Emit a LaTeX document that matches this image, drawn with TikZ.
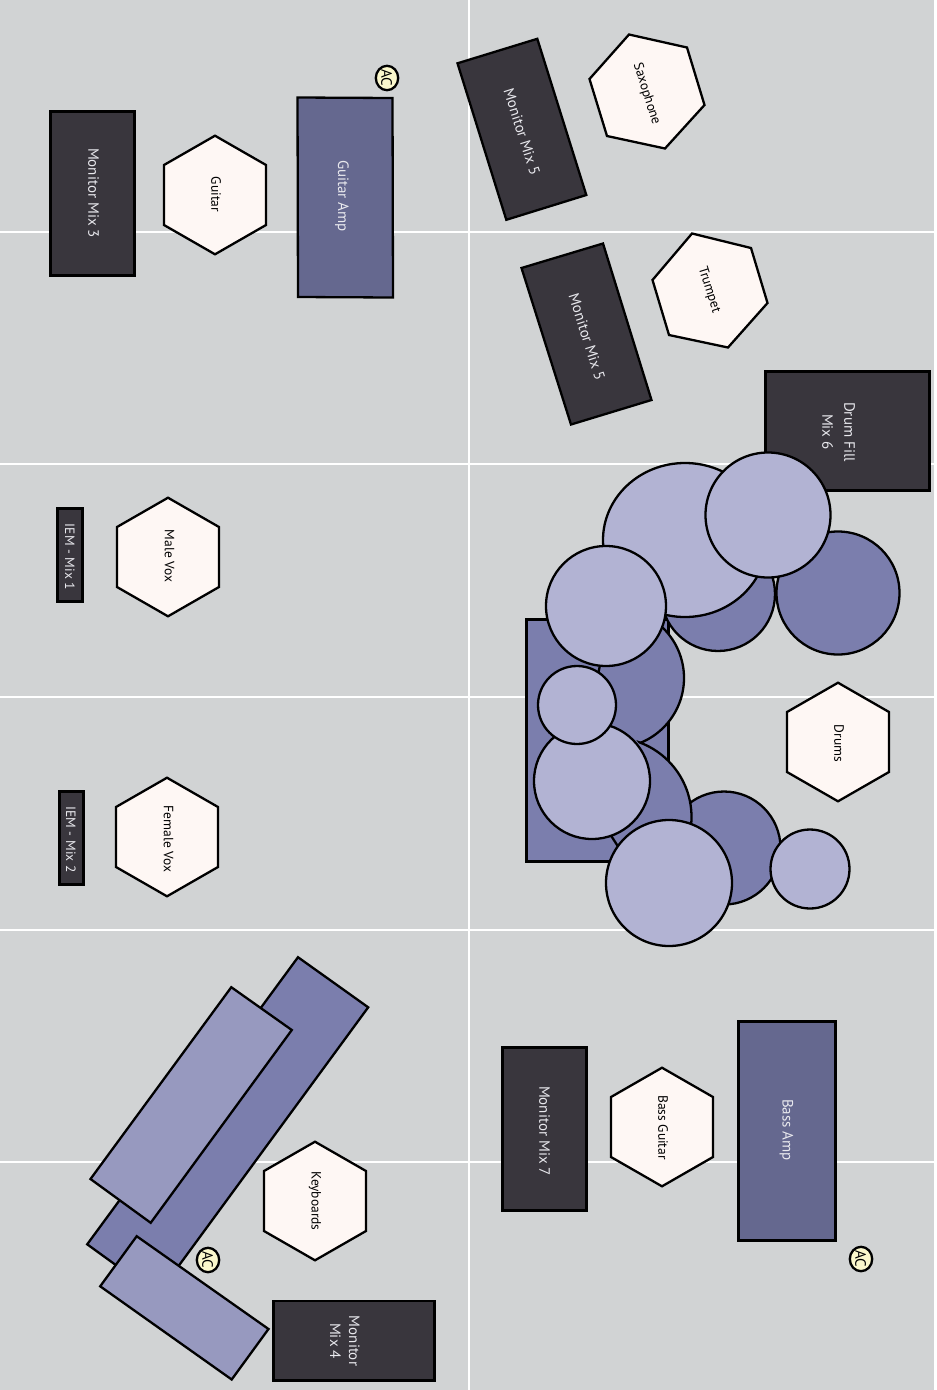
\documentclass[tikz,border=0pt]{standalone}
\usepackage{fontspec}
\setmainfont{PT Sans}
\definecolor{bgc}{HTML}{D1D3D4}
\definecolor{darkc}{HTML}{39363D}
\definecolor{ampc}{HTML}{65688F}
\definecolor{kitc}{HTML}{7B7EAD}
\definecolor{lightc}{HTML}{B2B3D3}
\definecolor{keyc}{HTML}{9799BF}
\definecolor{hexc}{HTML}{FEF7F4}
\definecolor{acc}{HTML}{FBF8CC}
\definecolor{txtw}{HTML}{E9E9EE}
\tikzset{
  shapeline/.style={draw=black,line width=2.3pt,line join=miter},
  monitor/.style={shapeline,fill=darkc},
  amp/.style={shapeline,fill=ampc},
  kit/.style={shapeline,fill=kitc},
  kitfill/.style={fill=kitc},
  cym/.style={shapeline,fill=lightc},
  keybox/.style={shapeline,fill=keyc},
  hexa/.style={shapeline,fill=hexc},
  wlabel/.style={text=txtw,font=\fontsize{15}{16}\selectfont,align=center,inner sep=0pt},
  iemlabel/.style={wlabel,font=\fontsize{13.5}{14}\selectfont},
  blabel/.style={text=black,font=\fontsize{13.5}{15}\selectfont,align=center,inner sep=0pt},
  aclabel/.style={text=black,font=\fontsize{15}{15}\selectfont,rotate=-90,inner sep=0pt},
  acdot/.style={draw=black,line width=2.3pt,fill=acc},
  gridline/.style={draw=white,line width=2.7pt}
}
\newcommand{\uphex}[2]{\path[hexa] (#1,#2-59.3)--(#1+51,#2-30)--(#1+51,#2+30)--(#1,#2+59.3)--(#1-51,#2+30)--(#1-51,#2-30)--cycle;}
\begin{document}
\begin{tikzpicture}[x=1pt,y=-1pt]
\useasboundingbox (0,0) rectangle (937,1390);
\fill[bgc] (0,0) rectangle (934,1390);
% grid
\draw[gridline] (469,0) -- (469,1390);
\foreach \yy in {232,464,697,930,1162} \draw[gridline] (0,\yy) -- (934,\yy);
% Guitar area
\path[monitor] (50.5,111.5) rectangle (134.5,275.5);
\node[wlabel,rotate=-90] (mm3) at (93.5,193) {Monitor Mix 3};
\uphex{215}{195}
\node[blabel,rotate=-90] (guitar) at (216,194.5) {Guitar};
\path[amp] (297.5,97.5) -- (392.5,98) -- (393,297.5) -- (298,297) -- cycle;
\node[wlabel,rotate=-90] (gamp) at (342,196) {Guitar Amp};
\path[acdot] (387,78) ellipse [x radius=11.2,y radius=12.2];
\node[aclabel] (ac1) at (386.5,78) {AC};
% Horns
\path[monitor] (457.5,63.3) -- (537.3,38.8) -- (586.3,195) -- (506.3,219.8) -- cycle;
\node[wlabel,rotate=-72.5] (mm5a) at (522,132) {Monitor Mix 5};
\path[hexa] (629,34.5) -- (687,47.5) -- (704.5,105) -- (665,148.5) -- (607,136) -- (589.5,79) -- cycle;
\node[blabel,rotate=-72.5] (sax) at (646.5,94) {Saxophone};
\path[monitor] (521.5,268) -- (603,243.5) -- (651.5,400) -- (571,424.5) -- cycle;
\node[wlabel,rotate=-72.5] (mm5b) at (587,337) {Monitor Mix 5};
\path[hexa] (692,233.5) -- (751,248) -- (767.5,303) -- (728,347.5) -- (669,335) -- (652.5,280) -- cycle;
\node[blabel,rotate=-72.5] (trumpet) at (709,290) {Trumpet};
% Vocals
\path[monitor] (57.5,508.5) rectangle (82.5,601.5);
\node[iemlabel,rotate=-90] (iem1) at (70,557) {IEM - Mix 1};
\uphex{168}{557}
\node[blabel,rotate=-90] (male) at (169.5,556) {Male Vox};
\path[monitor] (59.5,791.5) rectangle (83.5,884.5);
\node[iemlabel,rotate=-90] (iem2) at (71,839.5) {IEM - Mix 2};
\uphex{167}{837}
\node[blabel,rotate=-90] (female) at (168.5,839) {Female Vox};
% Drums
\path[monitor] (765.5,371.5) rectangle (929.5,490.5);
\node[wlabel,rotate=-90] (fill) at (838.5,432) {Drum Fill\\[6pt]Mix 6};
\path[kit] (526.5,619.5) rectangle (668.5,861.5);
% dark mid: outline only on its right side
\path[kitfill] (614,678) circle [radius=70];
\begin{scope}
  \clip (637,600) rectangle (700,760);
  \path[shapeline] (614,678) circle [radius=70];
\end{scope}
\draw[shapeline] (600,665) -- (598,675);
\path[kit] (724,848) circle [radius=56.5];
% dark lower: only its upper right part is there
\begin{scope}
  \clip (634,735) -- (705,735) -- (705,850) -- (620,850) -- (612,837) -- (605,770) -- cycle;
  \path[kit] (612,817) circle [radius=79.5];
\end{scope}
\path[kitfill] (606,770) -- (634,737) -- (690,815) -- (640,850) -- (617,846) -- (612,837) -- cycle;
\draw[shapeline] (610,834) -- (619,848);
\path[kit] (718,594) circle [radius=57];
\path[kit] (838,593) circle [radius=61.5];
\path[cym] (685,540) ellipse [x radius=82,y radius=77];
\path[cym] (768,515) circle [radius=62.5];
\path[cym] (606,606) circle [radius=60];
\path[cym] (592,781) circle [radius=58];
\path[cym] (577,705) circle [radius=39];
\path[cym] (669,883) circle [radius=63];
\path[cym] (810,869) circle [radius=39.5];
\uphex{838}{742}
\node[blabel,rotate=-90] (drums) at (839,743.5) {Drums};
% Bass
\path[monitor] (502.5,1047.5) rectangle (586.5,1210.5);
\node[wlabel,rotate=-90] (mm7) at (544.5,1131) {Monitor Mix 7};
\uphex{662}{1127}
\node[blabel,rotate=-90] (bg) at (663,1127.5) {Bass Guitar};
\path[amp] (738.5,1021.5) rectangle (835.5,1240.5);
\node[wlabel,rotate=-90] (bamp) at (786.5,1130) {Bass Amp};
\path[acdot] (861,1259) ellipse [x radius=11.2,y radius=12.2];
\node[aclabel] (ac2) at (860.5,1259) {AC};
% Keyboards
\path[kit] (298,957.2) -- (368.2,1007.3) -- (157.3,1295) -- (87.2,1244.3) -- cycle;
\path[keybox] (231.3,987.2) -- (291.8,1030) -- (150.7,1222.8) -- (90.5,1179) -- cycle;
\path[keybox] (136.7,1236.2) -- (268.5,1329) -- (231.7,1379.5) -- (100.2,1286.3) -- cycle;
\uphex{315}{1201}
\node[blabel,rotate=-90] (keys) at (315,1201) {Keyboards};
\path[acdot] (208,1260) ellipse [x radius=11.2,y radius=12.2];
\node[aclabel] (ac3) at (207.5,1260) {AC};
\path[monitor] (273.5,1301) rectangle (434.5,1380.5);
\node[wlabel,rotate=-90] (mm4) at (345,1341) {Monitor\\[3pt]Mix 4};
\end{tikzpicture}
\end{document}
